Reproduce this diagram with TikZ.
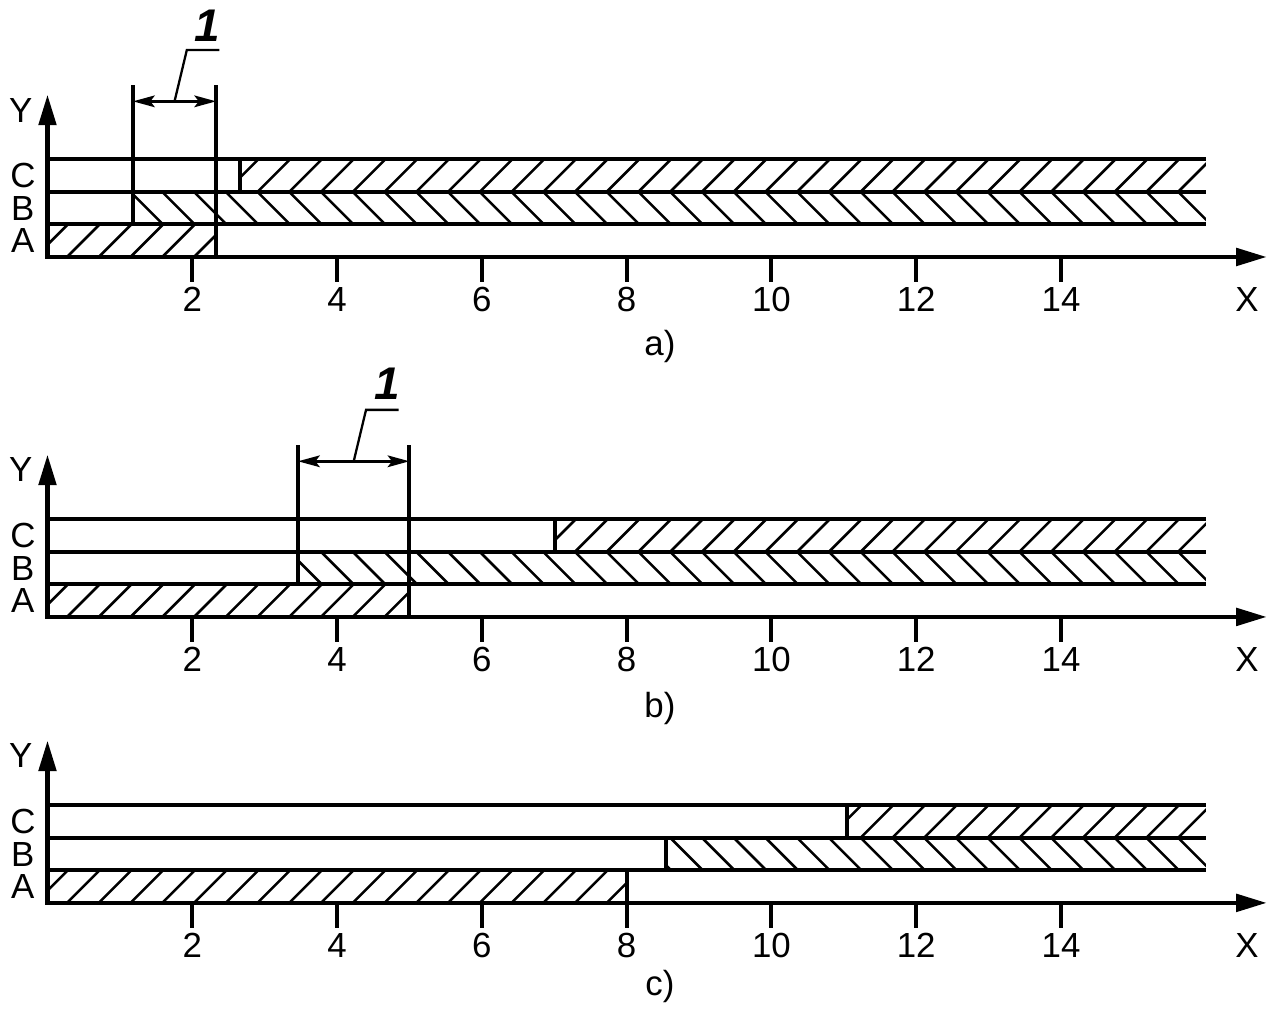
\documentclass[tikz,border=0pt]{standalone}
\usepackage{fontspec}
\setmainfont{Liberation Sans}
\usetikzlibrary{arrows.meta, calc}

% hatched band: x from, x to, bottom y, slope (1 = /, -1 = \)
\newcommand{\hatchband}[4]{%
  \begin{scope}
    \clip (#1,#3) rectangle (#2,{#3+0.45});
    \foreach \k in {-1,...,36}
      \draw[hatch] ({0.27+\k*0.4385},{#3+0.225-(#4)*0.225}) -- ++(0.45,{(#4)*0.45});
  \end{scope}}

\begin{document}
\begin{tikzpicture}[
    every node/.style={font=\fontsize{13.7}{16}\selectfont, inner sep=0pt},
    row/.style={line width=1.6pt},
    hatch/.style={line width=1pt},
    ax/.style={line width=1.6pt, {Triangle[length=0.42cm, width=0.24cm]}-{Triangle[length=0.42cm, width=0.24cm]}},
    tk/.style={line width=1.6pt},
    dimline/.style={line width=1.2pt, {Stealth[length=0.3cm, width=0.16cm, inset=0.06cm]}-{Stealth[length=0.3cm, width=0.16cm, inset=0.06cm]}},
    ldr/.style={line width=0.9pt},
    num/.style={font=\fontsize{18}{20}\selectfont\bfseries\itshape}
]
\useasboundingbox (-0.656,0) rectangle (16.97,14.254);
% panel a)
\begin{scope}[yshift=10.704cm]
\hatchband{0}{2.33}{0}{1}
\hatchband{1.18}{16}{0.45}{-1}
\hatchband{2.66}{16}{0.9}{1}
\foreach \y in {0.45,0.9,1.35} \draw[row] (0,\y) -- (16,\y);
\draw[row] (2.66,0.9) -- (2.66,1.35);
% zone 1
\coordinate (a1b) at (1.18,0.45);
\coordinate (a1t) at (1.18,2.38);
\coordinate (a2b) at (2.33,0);
\coordinate (a2t) at (2.33,2.38);
\draw[row] (a1b) -- (a1t);
\draw[row] (a2b) -- (a2t);
\coordinate (adl) at (1.18,2.15);
\coordinate (adr) at (2.33,2.15);
\draw[dimline] (adl) -- (adr);
\coordinate (am) at ($(adl)!0.5!(adr)$);
\coordinate (ak) at ($(am)+(0.17,0.71)$);
\coordinate (ake) at ($(ak)+(0.45,0)$);
\draw[ldr] (am) -- (ak) -- (ake);
\node[num] (an) at ($(ak)+(0.28,0.33)$) {1};
% axes
\draw[ax] (0,2.24) -- (0,0) -- (16.84,0);
\foreach \x in {2,4,...,14} {
  \draw[tk] (\x,0) -- (\x,-0.345);
  \node (at\x) at (\x,-0.59) {\x};
}
\node (aX) at (16.57,-0.59) {X};
\node (aY) at (-0.37,2.03) {Y};
\node (aA) at (-0.34,0.225) {A};
\node (aB) at (-0.34,0.675) {B};
\node (aC) at (-0.34,1.125) {C};
\node (acap) at (8.46,-1.24) {a)};
\end{scope}
% panel b)
\begin{scope}[yshift=5.732cm]
\hatchband{0}{5}{0}{1}
\hatchband{3.46}{16}{0.45}{-1}
\hatchband{7.01}{16}{0.9}{1}
\foreach \y in {0.45,0.9,1.35} \draw[row] (0,\y) -- (16,\y);
\draw[row] (7.01,0.9) -- (7.01,1.35);
% zone 1
\coordinate (b1b) at (3.46,0.45);
\coordinate (b1t) at (3.46,2.38);
\coordinate (b2b) at (5,0);
\coordinate (b2t) at (5,2.38);
\draw[row] (b1b) -- (b1t);
\draw[row] (b2b) -- (b2t);
\coordinate (bdl) at (3.46,2.15);
\coordinate (bdr) at (5,2.15);
\draw[dimline] (bdl) -- (bdr);
\coordinate (bm) at ($(bdl)!0.5!(bdr)$);
\coordinate (bk) at ($(bm)+(0.17,0.71)$);
\coordinate (bke) at ($(bk)+(0.45,0)$);
\draw[ldr] (bm) -- (bk) -- (bke);
\node[num] (bn) at ($(bk)+(0.29,0.36)$) {1};
% axes
\draw[ax] (0,2.24) -- (0,0) -- (16.84,0);
\foreach \x in {2,4,...,14} {
  \draw[tk] (\x,0) -- (\x,-0.345);
  \node (bt\x) at (\x,-0.59) {\x};
}
\node (bX) at (16.57,-0.59) {X};
\node (bY) at (-0.37,2.03) {Y};
\node (bA) at (-0.34,0.225) {A};
\node (bB) at (-0.34,0.675) {B};
\node (bC) at (-0.34,1.125) {C};
\node (bcap) at (8.46,-1.27) {b)};
\end{scope}
% panel c)
\begin{scope}[yshift=1.782cm]
\hatchband{0}{8}{0}{1}
\hatchband{8.54}{16}{0.45}{-1}
\hatchband{11.04}{16}{0.9}{1}
\foreach \y in {0.45,0.9,1.35} \draw[row] (0,\y) -- (16,\y);
\draw[row] (8,0) -- (8,0.45);
\draw[row] (8.54,0.45) -- (8.54,0.9);
\draw[row] (11.04,0.9) -- (11.04,1.35);
% axes
\draw[ax] (0,2.24) -- (0,0) -- (16.84,0);
\foreach \x in {2,4,...,14} {
  \draw[tk] (\x,0) -- (\x,-0.345);
  \node (ct\x) at (\x,-0.59) {\x};
}
\node (cX) at (16.57,-0.59) {X};
\node (cY) at (-0.37,2.03) {Y};
\node (cA) at (-0.34,0.225) {A};
\node (cB) at (-0.34,0.675) {B};
\node (cC) at (-0.34,1.125) {C};
\node (ccap) at (8.46,-1.15) {c)};
\end{scope}
\end{tikzpicture}
\end{document}
